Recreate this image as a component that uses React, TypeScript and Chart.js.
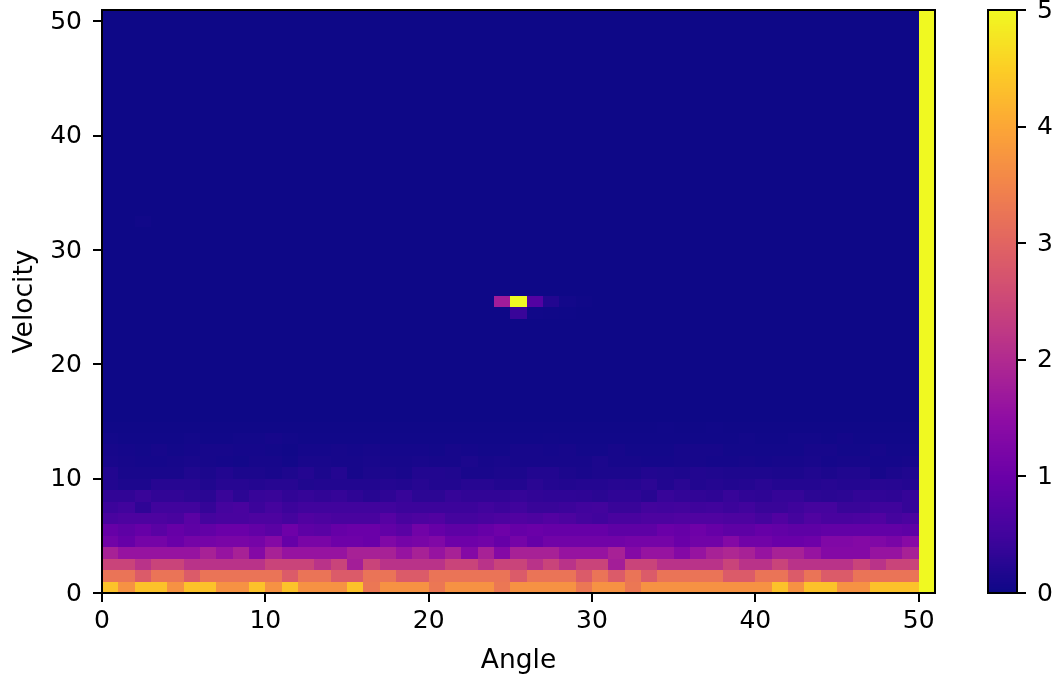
import React, { useEffect, useRef } from "react";
import { Chart, registerables } from "chart.js";

Chart.register(...registerables);

const xTicks = [0, 10, 20, 30, 40, 50];
const yTicks = [0, 10, 20, 30, 40, 50];
const colorbarTicks = [0, 1, 2, 3, 4, 5];
const gridSize = 51;
const background = 0.01;

const row0 = [4.35,3.7,4.35,4.35,3.7,4.35,4.35,3.7,3.7,4.35,3.7,4.35,3.7,3.7,3.7,4.35,3.3,3.7,3.7,3.7,3.3,3.7,3.7,3.7,3.3,3.7,3.7,3.7,3.7,3.3,3.7,3.7,3.3,3.7,3.7,3.7,3.7,3.7,3.7,3.7,3.7,4.35,3.7,4.35,4.35,3.7,3.7,4.35,4.35,4.35,5];
const row1 = [3.25,3.25,2.85,3.25,3.25,2.85,3.25,3.25,3.25,3.25,3.25,2.85,3.25,3.25,2.85,2.85,3.25,3.25,2.85,2.85,3.25,3.25,3.25,3.25,3.25,2.85,3.25,3.25,3.25,2.85,3.25,2.85,3.25,2.85,3.25,3.25,3.25,3.25,2.85,2.85,3.25,3.25,2.85,3.25,2.85,2.85,3.25,3.25,3.25,3.25,5];
const row2 = [2.45,2.45,2.15,2.45,2.45,2.15,2.15,2.15,2.15,2.15,2.45,2.45,2.45,2.15,2.45,1.8,2.45,2.15,2.15,2.15,2.15,2.45,2.45,2.15,2.45,2.45,2.15,2.45,2.15,2.45,2.45,1.8,2.45,2.45,2.15,2.15,2.15,2.15,2.45,2.15,2.15,2.45,2.15,2.15,2.15,2.15,2.45,2.15,2.45,2.45,5];
const row3 = [1.85,1.6,1.6,1.6,1.6,1.6,1.85,1.6,1.85,1.35,1.85,1.6,1.6,1.6,1.6,1.85,1.85,1.85,1.6,1.85,1.6,1.85,1.35,1.85,1.35,1.85,1.85,1.85,1.6,1.6,1.6,1.85,1.35,1.6,1.6,1.35,1.6,1.85,1.95,1.85,1.6,1.85,1.85,1.6,1.35,1.35,1.35,1.6,1.6,1.85,5];
const row4 = [1.1,0.95,1.15,1.15,1.0,1.15,1.15,1.2,1.2,1.15,1.35,0.95,1.2,1.2,1.05,1.05,1.0,1.3,1.15,1.2,1.3,1.05,1.05,1.1,0.95,1.15,0.95,1.1,1.1,1.1,1.1,1.1,1.15,1.15,1.15,1.0,1.1,1.1,1.35,1.1,1.1,1.0,1.0,1.05,1.3,1.3,1.35,1.3,1.2,1.4,5];
const row5 = [0.95,0.85,0.95,0.8,0.95,0.85,0.9,1.0,1.0,0.9,0.8,1.05,0.85,0.8,0.95,1.0,1.0,0.9,0.8,1.1,0.95,0.85,0.85,0.95,1.05,0.95,1.0,0.95,0.95,0.95,0.95,0.85,0.85,0.85,1.0,0.95,1.05,0.95,0.85,0.85,0.95,0.9,0.85,0.85,0.9,0.9,0.9,0.9,0.9,0.85,5];
const row6 = [0.6,0.65,0.65,0.65,0.6,0.8,0.55,0.6,0.6,0.65,0.65,0.55,0.7,0.65,0.6,0.6,0.6,0.75,0.6,0.65,0.7,0.55,0.55,0.6,0.65,0.7,0.65,0.72,0.65,0.55,0.5,0.6,0.6,0.65,0.65,0.68,0.68,0.68,0.65,0.65,0.55,0.7,0.55,0.68,0.6,0.6,0.62,0.7,0.55,0.62,5];
const row7 = [0.45,0.5,0.33,0.5,0.5,0.5,0.38,0.55,0.6,0.45,0.55,0.45,0.5,0.5,0.5,0.5,0.5,0.5,0.45,0.45,0.45,0.45,0.45,0.5,0.45,0.5,0.42,0.42,0.45,0.5,0.52,0.42,0.42,0.52,0.5,0.52,0.48,0.5,0.45,0.5,0.42,0.42,0.48,0.55,0.55,0.42,0.42,0.48,0.48,0.38,5];
const row8 = [0.35,0.35,0.42,0.35,0.35,0.3,0.28,0.42,0.3,0.4,0.42,0.35,0.38,0.35,0.38,0.32,0.25,0.32,0.4,0.3,0.3,0.38,0.35,0.35,0.35,0.38,0.35,0.33,0.33,0.32,0.28,0.33,0.33,0.26,0.4,0.36,0.35,0.32,0.4,0.34,0.32,0.38,0.38,0.3,0.28,0.3,0.36,0.34,0.32,0.38,5];
const row9 = [0.2,0.15,0.15,0.25,0.25,0.25,0.18,0.25,0.25,0.22,0.25,0.25,0.18,0.2,0.2,0.2,0.2,0.22,0.2,0.25,0.2,0.2,0.25,0.25,0.2,0.2,0.28,0.22,0.2,0.22,0.22,0.25,0.24,0.3,0.2,0.28,0.2,0.23,0.2,0.22,0.27,0.22,0.22,0.22,0.25,0.22,0.22,0.26,0.25,0.22,5];
const row10 = [0.2,0.12,0.12,0.12,0.12,0.18,0.14,0.2,0.14,0.14,0.12,0.16,0.22,0.14,0.22,0.1,0.14,0.14,0.12,0.2,0.2,0.18,0.12,0.12,0.14,0.14,0.2,0.2,0.14,0.12,0.14,0.14,0.14,0.2,0.18,0.16,0.2,0.18,0.16,0.16,0.16,0.14,0.14,0.18,0.14,0.18,0.18,0.1,0.14,0.18,5];
const row11 = [0.12,0.1,0.08,0.08,0.1,0.12,0.1,0.08,0.06,0.1,0.1,0.06,0.12,0.12,0.1,0.1,0.12,0.1,0.1,0.12,0.1,0.1,0.14,0.1,0.12,0.1,0.1,0.1,0.1,0.1,0.14,0.1,0.1,0.08,0.08,0.1,0.1,0.08,0.08,0.1,0.08,0.1,0.1,0.12,0.08,0.1,0.1,0.08,0.08,0.1,5];
const row12 = [0.1,0.08,0.06,0.1,0.06,0.08,0.1,0.1,0.08,0.08,0.06,0.04,0.08,0.08,0.1,0.08,0.1,0.08,0.08,0.08,0.06,0.1,0.08,0.06,0.06,0.1,0.1,0.08,0.1,0.06,0.06,0.1,0.06,0.06,0.06,0.1,0.1,0.1,0.06,0.06,0.06,0.06,0.06,0.1,0.1,0.06,0.06,0.1,0.06,0.06,5];
const row13 = [0.06,0.04,0.04,0.04,0.04,0.06,0.04,0.04,0.06,0.06,0.09,0.06,0.04,0.04,0.04,0.04,0.04,0.04,0.04,0.04,0.04,0.04,0.04,0.04,0.04,0.04,0.04,0.05,0.04,0.04,0.04,0.04,0.04,0.04,0.04,0.04,0.04,0.04,0.04,0.06,0.04,0.04,0.06,0.06,0.04,0.07,0.04,0.04,0.04,0.04,5];
const row14 = [0.03,0.03,0.03,0.03,0.03,0.03,0.03,0.03,0.03,0.03,0.03,0.03,0.03,0.03,0.03,0.03,0.03,0.03,0.03,0.03,0.03,0.03,0.03,0.03,0.03,0.03,0.03,0.03,0.03,0.03,0.03,0.03,0.03,0.03,0.04,0.03,0.03,0.04,0.03,0.03,0.03,0.03,0.03,0.03,0.03,0.03,0.03,0.03,0.03,0.03,5];
const lowerRows = [row0,row1,row2,row3,row4,row5,row6,row7,row8,row9,row10,row11,row12,row13,row14];

// [velocity row, angle column, value] for cells that stand out from the background.
const hotCells = [
  [25,24,1.75],[25,25,5],[25,26,0.72],[25,27,0.2],[25,28,0.06],[25,29,0.03],
  [24,25,0.42],[24,26,0.04],[24,27,0.03],[24,28,0.02],
  [32,2,0.04],
];
const rightEdgeValue = 5;

const stops = ["#0d0887","#41049d","#6a00a8","#8f0da4","#b12a90","#cc4778","#e16462","#f2844b","#fca636","#fcce25","#f0f921"];
const hex = (s: string) => [1,3,5].map(i => parseInt(s.slice(i,i+2),16));
function plasma(v: number) {
  const t = Math.max(0, Math.min(1, v / 5)) * 10;
  const i = Math.min(9, Math.floor(t));
  const a = hex(stops[i]), b = hex(stops[i+1]), f = t - i;
  return `rgb(${a.map((c,k) => Math.round(c + (b[k]-c)*f)).join(",")})`;
}

function buildCells() {
  const cells: {x:number;y:number;v:number}[] = [];
  for (let r = 0; r < gridSize; r++) for (let c = 0; c < gridSize; c++) {
    let v = r < lowerRows.length ? lowerRows[r][c] : c === gridSize - 1 ? rightEdgeValue : background;
    const hot = hotCells.find(h => h[0] === r && h[1] === c);
    if (hot) v = hot[2];
    cells.push({ x: c, y: r, v });
  }
  return cells;
}

const tickFont = { family: "'DejaVu Sans'", size: 25 };
const titleFont = { family: "'DejaVu Sans'", size: 26.5 };

const heatPlugin = {
  id: "heat",
  beforeDatasetsDraw(chart: any) {
    const { ctx, scales: { x, y } } = chart;
    for (const d of chart.data.datasets[0].data) {
      const l = Math.round(x.getPixelForValue(d.x)), rr = Math.round(x.getPixelForValue(d.x + 1));
      const t = Math.round(y.getPixelForValue(d.y + 1)), b = Math.round(y.getPixelForValue(d.y));
      ctx.fillStyle = plasma(d.v);
      ctx.fillRect(l, t, rr - l, b - t);
    }
  },
  afterDatasetsDraw(chart: any) {
    const { ctx, chartArea: a } = chart;
    ctx.strokeStyle = "#000"; ctx.lineWidth = 2;
    ctx.strokeRect(a.left, a.top, a.right - a.left, a.bottom - a.top);
  },
};

const barPlugin = {
  id: "bar",
  beforeDatasetsDraw(chart: any) {
    const { ctx, chartArea: a, scales: { y } } = chart;
    const steps = 256;
    for (let i = 0; i < steps; i++) {
      const v0 = (i / steps) * 5, v1 = ((i + 1) / steps) * 5;
      const top = Math.floor(y.getPixelForValue(v1)), bot = Math.ceil(y.getPixelForValue(v0));
      ctx.fillStyle = plasma((v0 + v1) / 2);
      ctx.fillRect(a.left, top, a.right - a.left, bot - top);
    }
  },
  afterDatasetsDraw(chart: any) {
    const { ctx, chartArea: a } = chart;
    ctx.strokeStyle = "#000"; ctx.lineWidth = 2;
    ctx.strokeRect(a.left, a.top, a.right - a.left, a.bottom - a.top);
  },
};

const tickGrid = { display: true, drawOnChartArea: false, drawTicks: true, tickLength: 9, color: "#000", lineWidth: 2 };
const noAxisPadding = (s: any) => { s.paddingTop = 0; s.paddingBottom = 0; };

export default function App() {
  const mainRef = useRef<HTMLCanvasElement>(null);
  const barRef = useRef<HTMLCanvasElement>(null);
  useEffect(() => {
    document.body.style.margin = "0";
    const main = new Chart(mainRef.current!, {
      type: "scatter",
      plugins: [heatPlugin],
      data: { datasets: [{ label: "Heatmap", data: buildCells(), pointRadius: 0, showLine: false }] },
      options: {
        animation: false, responsive: false, devicePixelRatio: 1,
        layout: { autoPadding: false, padding: { left: 9, top: 10, right: 19, bottom: 0 } },
        plugins: { legend: { display: false }, tooltip: { enabled: false } },
        scales: {
          x: {
            type: "linear", min: 0, max: 51,
            afterBuildTicks: (s: any) => { s.ticks = xTicks.map(value => ({ value })); },
            afterFit: (s: any) => { s.height = 81; s.paddingLeft = 0; s.paddingRight = 0; },
            grid: tickGrid, border: { color: "#000", width: 2 },
            ticks: { font: tickFont, color: "#000", padding: 4, maxRotation: 0, autoSkip: false },
            title: { display: true, text: "Angle", font: titleFont, color: "#000", padding: { top: 4, bottom: -3 } },
          },
          y: {
            type: "linear", min: 0, max: 51,
            afterBuildTicks: (s: any) => { s.ticks = yTicks.map(value => ({ value })); },
            afterFit: (s: any) => { s.width = 93; noAxisPadding(s); },
            grid: tickGrid, border: { color: "#000", width: 2 },
            ticks: { font: tickFont, color: "#000", padding: 11, autoSkip: false, labelOffset: 1 },
            title: { display: true, text: "Velocity", font: titleFont, color: "#000", padding: { top: 0, bottom: 4 } },
          },
        },
      } as any,
    } as any);
    const bar = new Chart(barRef.current!, {
      type: "scatter",
      plugins: [barPlugin],
      data: { datasets: [{ label: "Colorbar", data: colorbarTicks.map(v => ({ x: 0, y: v })), pointRadius: 0, showLine: false }] },
      options: {
        animation: false, responsive: false, devicePixelRatio: 1,
        layout: { autoPadding: false, padding: { left: 8, top: 10, right: 0, bottom: 81 } },
        plugins: { legend: { display: false }, tooltip: { enabled: false } },
        scales: {
          x: { display: false, min: 0, max: 1 },
          y: {
            type: "linear", position: "right", min: 0, max: 5,
            afterBuildTicks: (s: any) => { s.ticks = colorbarTicks.map(value => ({ value })); },
            afterFit: (s: any) => { s.width = 39; noAxisPadding(s); },
            grid: tickGrid, border: { color: "#000", width: 2 },
            ticks: { font: tickFont, color: "#000", padding: 11, autoSkip: false, labelOffset: 1 },
          },
        },
      } as any,
    } as any);
    return () => { main.destroy(); bar.destroy(); };
  }, []);
  return (
    <div style={{ position: "absolute", left: 0, top: 0, width: 1056, height: 674, background: "#fff", overflow: "hidden" }}>
      <canvas ref={mainRef} width={954} height={674} style={{ position: "absolute", left: 0, top: 0 }} />
      <canvas ref={barRef} width={76} height={674} style={{ position: "absolute", left: 980, top: 0 }} />
    </div>
  );
}
